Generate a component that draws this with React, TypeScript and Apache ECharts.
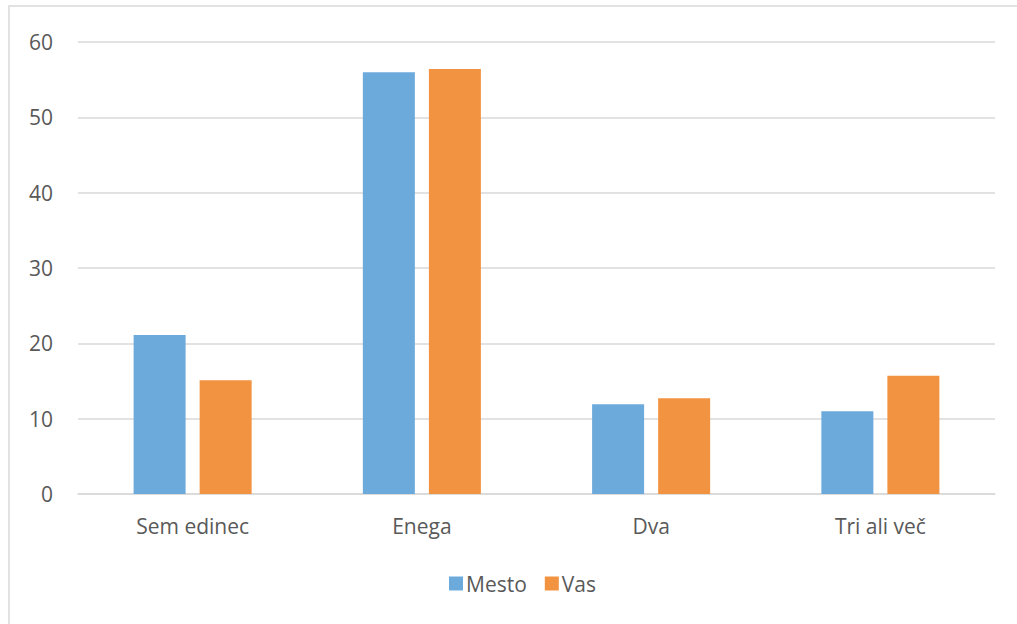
import React, { useEffect, useRef } from "react";
import * as echarts from "echarts";

const categories = ["Sem edinec", "Enega", "Dva", "Tri ali več"];
const mesto = [21.1, 56.0, 11.9, 11.0];
const vas = [15.1, 56.4, 12.7, 15.7];
const yTicks = [0, 10, 20, 30, 40, 50, 60];

export default function App() {
  const ref = useRef<HTMLDivElement>(null);
  useEffect(() => {
    const chart = echarts.init(ref.current!, null, { renderer: "svg" });
    const font = "'Open Sans', 'Noto Sans', sans-serif";
    chart.setOption({
      animation: false,
      backgroundColor: "#ffffff",
      textStyle: { fontFamily: font },
      graphic: [
        {
          type: "rect",
          shape: { x: 9, y: 6, width: 1020, height: 630 },
          style: { fill: "none", stroke: "#d9d9d9", lineWidth: 1.5 },
          silent: true,
        },
      ],
      grid: { left: 78, right: 22, top: 42, bottom: 130 },
      legend: {
        data: ["Mesto", "Vas"],
        left: 444,
        top: 568,
        itemWidth: 14,
        itemHeight: 14,
        itemGap: 18,
        icon: "rect",
        textStyle: { color: "#595959", fontSize: 21, fontFamily: font, padding: [0, 0, 0, -2] },
      },
      xAxis: {
        type: "category",
        data: categories,
        axisLine: { lineStyle: { color: "#d9d9d9", width: 1.5 } },
        axisTick: { show: false },
        axisLabel: { color: "#595959", fontSize: 21, margin: 21, fontFamily: font },
      },
      yAxis: {
        type: "value",
        min: yTicks[0],
        max: yTicks[yTicks.length - 1],
        interval: 10,
        axisLine: { show: false },
        axisTick: { show: false },
        splitLine: { lineStyle: { color: "#d9d9d9", width: 1.5 } },
        axisLabel: { color: "#595959", fontSize: 21, margin: 25, fontFamily: font },
      },
      series: [
        {
          name: "Mesto",
          type: "bar",
          data: mesto,
          barWidth: 52,
          barGap: "27%",
          itemStyle: { color: "#6CAADC" },
        },
        {
          name: "Vas",
          type: "bar",
          data: vas,
          barWidth: 52,
          barGap: "27%",
          itemStyle: { color: "#F29341" },
        },
      ],
    });
    return () => chart.dispose();
  }, []);
  return (
    <div
      ref={ref}
      style={{ position: "absolute", left: 0, top: 0, width: 1017, height: 624 }}
    />
  );
}
